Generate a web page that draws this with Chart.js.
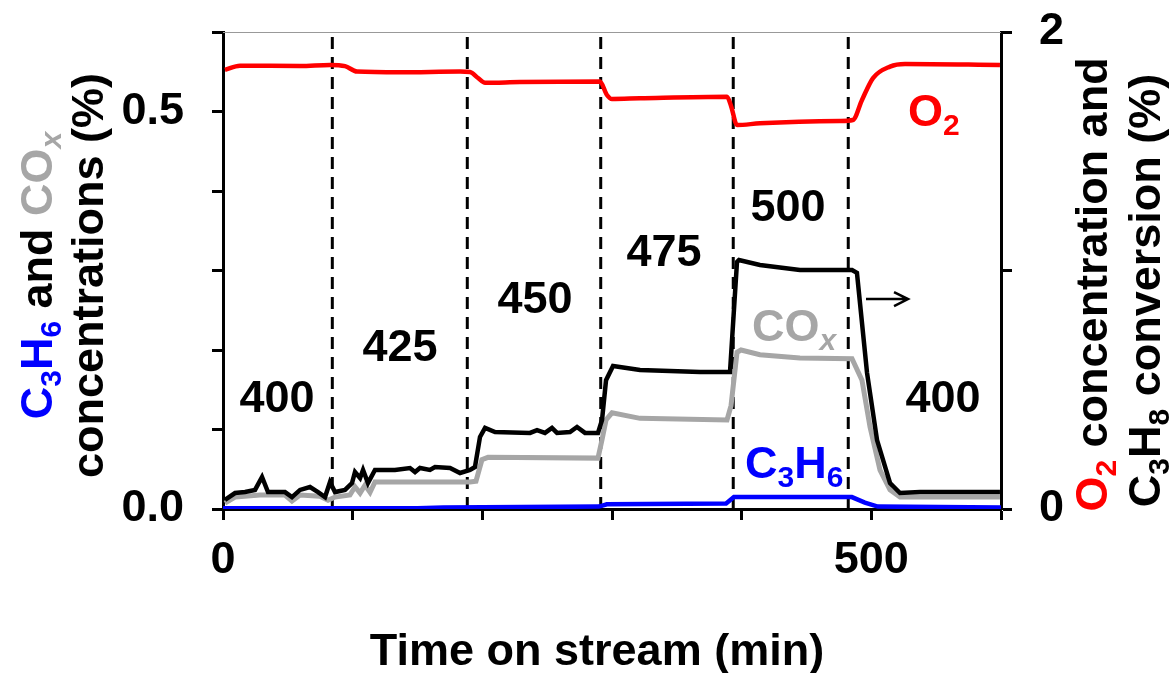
<!DOCTYPE html>
<html>
<head>
<meta charset="utf-8">
<script src="https://cdn.jsdelivr.net/npm/chart.js@4.4.0/dist/chart.umd.min.js"></script>
<style>
  html, body { margin: 0; padding: 0; background: #fff; }
  #wrap { width: 1171px; height: 673px; }
</style>
</head>
<body>
<div id="wrap"><canvas id="myChart" width="1171" height="673"></canvas></div>
<script>
/* globals Chart */

// time on stream (min) and values
const convTime = [1.5, 9.3, 17, 24.7, 30.1, 34.7, 47.8, 53.2, 59.4, 67.1, 73.3, 78.7, 82.5, 86.4, 94.1,
  99.5, 101.8, 105.7, 108, 111.8, 117.2, 132.6, 144.2, 148.1, 151.9, 159.6, 163.5, 175.1, 182.8, 190.5,
  194.3, 198.2, 202.1, 209.8, 236.8, 242.2, 248.3, 253.7, 257.6, 267.6, 273, 279.2, 289.2, 292.3, 295.4,
  300.8, 321.6, 344.7, 367.9, 388.7, 391, 396.4, 397.9, 414.1, 444.9, 468.1, 485.1, 488.9, 496.7, 504.4,
  514.4, 522.1, 537.5, 599.2];
const c3h8Conv = [0.038, 0.067, 0.071, 0.08, 0.134, 0.071, 0.071, 0.05, 0.08, 0.092, 0.071, 0.05, 0.113, 0.071, 0.08,
  0.109, 0.155, 0.13, 0.164, 0.109, 0.164, 0.164, 0.172, 0.155, 0.172, 0.164, 0.176, 0.172, 0.151, 0.164,
  0.176, 0.302, 0.34, 0.323, 0.319, 0.331, 0.319, 0.34, 0.319, 0.323, 0.344, 0.319, 0.319, 0.373, 0.54,
  0.6, 0.583, 0.579, 0.574, 0.574, 0.574, 1.036, 1.044, 1.023, 1.002, 1.002, 1.002, 0.99, 0.57, 0.289,
  0.109, 0.067, 0.071, 0.071];

const coxTime = [1.5, 9.3, 28.5, 47.8, 53.2, 59.4, 74.8, 81, 86.4, 97.9, 101.8, 105.7, 109.5, 113.4, 117.2,
  190.5, 195.1, 199.7, 204.4, 289.2, 292.3, 295.4, 300, 321.6, 388.7, 391.8, 396.4, 399.5, 414.1, 444.9,
  485.1, 492.8, 499, 506.7, 514.4, 522.1, 599.2];
const coxConc = [0.0075, 0.015, 0.0176, 0.0176, 0.01, 0.0176, 0.016, 0.011, 0.015, 0.0176, 0.028, 0.02, 0.03, 0.021, 0.034,
  0.034, 0.035, 0.062, 0.065, 0.064, 0.087, 0.112, 0.121, 0.114, 0.112, 0.13, 0.197, 0.2, 0.194, 0.19,
  0.189, 0.162, 0.103, 0.049, 0.024, 0.015, 0.015];

const c3h6Time = [0, 150, 170, 290, 296, 388, 394, 485, 495, 505, 600];
const c3h6Conc = [0.001, 0.001, 0.002, 0.003, 0.006, 0.007, 0.015, 0.015, 0.008, 0.003, 0.002];

const o2Time = [1.5, 13.1, 59.4, 82.5, 94.1, 103.3, 136.5, 182.8, 190.5, 196.7, 202.1, 229, 290.7, 296.1, 300,
  321.6, 388.7, 391.8, 396.4, 414.1, 475.8, 485.8, 492.8, 501.3, 514.4, 526, 599.2];
const o2Conc = [1.841, 1.859, 1.857, 1.862, 1.857, 1.834, 1.831, 1.834, 1.832, 1.807, 1.787, 1.79, 1.792, 1.736, 1.719,
  1.722, 1.729, 1.69, 1.61, 1.617, 1.627, 1.631, 1.715, 1.807, 1.855, 1.866, 1.862];

// temperature switches (min) and temperature labels
const stepTimes = [84.3, 188.4, 291.3, 393.5, 482.2];
const tempLabels = ["400", "425", "450", "475", "500", "400"];
const tempLabelTime = [41.6, 136.5, 240.6, 340.1, 435.7, 555.3];
const tempLabelConc = [0.142, 0.206, 0.267, 0.326, 0.382, 0.142];

const xTickLabels = [0, 500];
const leftTickLabels = [0, 0.5];
const rightTickLabels = [0, 2];

const FONT = '"Liberation Sans", Arial, sans-serif';
const BLUE = "#0000ff";
const GREY = "#a6a6a6";
const RED = "#ff0000";

const zip = (xs, ys) => xs.map((x, i) => ({ x: x, y: ys[i] }));

const stepSets = stepTimes.map((t) => ({
  data: [{ x: t, y: 0 }, { x: t, y: 0.6 }],
  yAxisID: "yL",
  borderColor: "#000",
  borderWidth: 3,
  borderDash: [12, 8],
  pointRadius: 0,
  order: 10,
}));

// rich text: segments with colour, subscript, italic
function segFont(s) {
  const size = s.sub ? 30 : 45;
  return (s.it ? "italic " : "") + "bold " + size + "px " + FONT;
}
function richWidth(ctx, segs) {
  let w = 0;
  segs.forEach((s) => {
    ctx.font = segFont(s);
    w += ctx.measureText(s.t).width;
  });
  return w;
}
function drawRich(ctx, segs, x, y, align) {
  let cx = x;
  const w = richWidth(ctx, segs);
  if (align === "center") cx = x - w / 2;
  ctx.textBaseline = "alphabetic";
  ctx.textAlign = "left";
  segs.forEach((s) => {
    ctx.font = segFont(s);
    ctx.fillStyle = s.c || "#000";
    ctx.fillText(s.t, cx, y + (s.sub ? 9 : 0));
    cx += ctx.measureText(s.t).width;
  });
}

const leftTitle1 = [
  { t: "C", c: BLUE }, { t: "3", c: BLUE, sub: true }, { t: "H", c: BLUE }, { t: "6", c: BLUE, sub: true },
  { t: " and " }, { t: "CO", c: GREY }, { t: "x", c: GREY, sub: true, it: true },
];
const leftTitle2 = [{ t: "concentrations (%)" }];
const rightTitle1 = [{ t: "O", c: RED }, { t: "2", c: RED, sub: true }, { t: " concentration and" }];
const rightTitle2 = [{ t: "C" }, { t: "3", sub: true }, { t: "H" }, { t: "8", sub: true }, { t: " conversion (%)" }];

const decorPlugin = {
  id: "decor",
  afterDraw(chart) {
    const ctx = chart.ctx;
    const a = chart.chartArea;
    const sx = chart.scales.x;
    const sl = chart.scales.yL;
    ctx.save();
    // thin top frame
    ctx.strokeStyle = "#999";
    ctx.lineWidth = 1;
    ctx.beginPath();
    ctx.moveTo(a.left, a.top + 0.5);
    ctx.lineTo(a.right, a.top + 0.5);
    ctx.stroke();

    // temperature labels
    tempLabels.forEach((lab, i) => {
      drawRich(ctx, [{ t: lab }], sx.getPixelForValue(tempLabelTime[i]), sl.getPixelForValue(tempLabelConc[i]) + 16, "center");
    });
    // series labels
    drawRich(ctx, [{ t: "O", c: RED }, { t: "2", c: RED, sub: true }], sx.getPixelForValue(528.3), sl.getPixelForValue(0.502) + 16, "left");
    drawRich(ctx, [{ t: "CO", c: GREY }, { t: "x", c: GREY, sub: true, it: true }], sx.getPixelForValue(408), sl.getPixelForValue(0.231) + 16, "left");
    drawRich(ctx, [{ t: "C", c: BLUE }, { t: "3", c: BLUE, sub: true }, { t: "H", c: BLUE }, { t: "6", c: BLUE, sub: true }],
      sx.getPixelForValue(402.6), sl.getPixelForValue(0.059) + 16, "left");

    // arrow pointing to right axis
    const ax0 = sx.getPixelForValue(495.9);
    const ax1 = sx.getPixelForValue(528.3);
    const ay = sl.getPixelForValue(0.264);
    ctx.strokeStyle = "#000";
    ctx.lineWidth = 2.5;
    ctx.beginPath();
    ctx.moveTo(ax0, ay);
    ctx.lineTo(ax1, ay);
    ctx.moveTo(ax1 - 14, ay - 7);
    ctx.lineTo(ax1, ay);
    ctx.lineTo(ax1 - 14, ay + 7);
    ctx.stroke();

    // axis titles
    const midY = (a.top + a.bottom) / 2;
    ctx.save();
    ctx.translate(52, midY + 5);
    ctx.rotate(-Math.PI / 2);
    drawRich(ctx, leftTitle1, 0, 0, "center");
    drawRich(ctx, leftTitle2, 0, 51, "center");
    ctx.restore();

    ctx.save();
    ctx.translate(1107, midY + 14);
    ctx.rotate(-Math.PI / 2);
    drawRich(ctx, rightTitle1, 0, 0, "center");
    drawRich(ctx, rightTitle2, -6, 53, "center");
    ctx.restore();

    drawRich(ctx, [{ t: "Time on stream (min)" }], 597, 665, "center");
    ctx.restore();
  },
};

const tickFont = { family: FONT, size: 45, weight: "bold" };

new Chart(document.getElementById("myChart").getContext("2d"), {
  type: "line",
  plugins: [decorPlugin],
  data: {
    datasets: [
      { data: zip(c3h6Time, c3h6Conc), yAxisID: "yL", borderColor: BLUE, borderWidth: 4.5, pointRadius: 0, order: 0 },
      { data: zip(convTime, c3h8Conv), yAxisID: "yR", borderColor: "#000", borderWidth: 4.5, pointRadius: 0, order: 1 },
      { data: zip(coxTime, coxConc), yAxisID: "yL", borderColor: GREY, borderWidth: 5, pointRadius: 0, order: 2 },
      { data: zip(o2Time, o2Conc), yAxisID: "yR", borderColor: RED, borderWidth: 4.5, pointRadius: 0, order: 3,
        cubicInterpolationMode: "monotone" },
      ...stepSets,
    ],
  },
  options: {
    responsive: false,
    animation: false,
    events: [],
    layout: { padding: { top: 32, left: 0, right: 0, bottom: 0 } },
    plugins: { legend: { display: false }, tooltip: { enabled: false }, title: { display: false } },
    scales: {
      x: {
        type: "linear",
        min: 0,
        max: 600,
        border: { display: true, color: "#000", width: 3 },
        grid: { drawOnChartArea: false, drawTicks: true, tickLength: 11, tickWidth: 3, tickColor: "#000" },
        ticks: {
          stepSize: 100,
          autoSkip: false,
          maxRotation: 0,
          padding: 14,
          color: "#000",
          font: tickFont,
          callback: (v) => (xTickLabels.includes(v) ? String(v) : ""),
        },
        afterFit(scale) {
          scale.height = 164;
          scale.paddingLeft = 0;
          scale.paddingRight = 0;
        },
      },
      yL: {
        position: "left",
        min: 0,
        max: 0.6,
        border: { display: true, color: "#000", width: 3 },
        grid: { drawOnChartArea: false, drawTicks: true, tickLength: 11, tickWidth: 3, tickColor: "#000" },
        ticks: {
          stepSize: 0.1,
          autoSkip: false,
          padding: 28,
          color: "#000",
          font: tickFont,
          callback: (v) => (leftTickLabels.some((t) => Math.abs(t - v) < 1e-6) ? v.toFixed(1) : ""),
        },
        afterFit(scale) {
          scale.width = 223;
          scale.paddingTop = 0;
          scale.paddingBottom = 0;
        },
      },
      yR: {
        position: "right",
        min: 0,
        max: 2,
        border: { display: true, color: "#000", width: 3 },
        grid: { drawOnChartArea: false, drawTicks: true, tickLength: 11, tickWidth: 3, tickColor: "#000" },
        ticks: {
          stepSize: 1,
          autoSkip: false,
          padding: 27,
          color: "#000",
          font: tickFont,
          callback: (v) => (rightTickLabels.includes(v) ? String(v) : ""),
        },
        afterFit(scale) {
          scale.width = 170;
          scale.paddingTop = 0;
          scale.paddingBottom = 0;
        },
      },
    },
  },
});
</script>
</body>
</html>
